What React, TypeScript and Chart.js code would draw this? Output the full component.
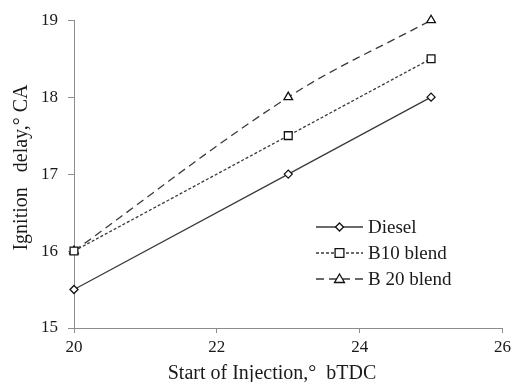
import React, { useEffect, useRef } from "react";
import { Chart, registerables } from "chart.js";

Chart.register(...registerables);

const xValues = [20, 23, 25];
const dieselValues = [15.5, 17, 18];
const b10Values = [16, 17.5, 18.5];
const b20Values = [16, 18, 19];
const seriesNames = ["Diesel", "B10 blend", "B 20 blend"];
const xTitle = "Start of Injection,\u00b0  bTDC";
const yTitle = "Ignition   delay,\u00b0 CA";

const FONT = "'Liberation Serif', 'Times New Roman', serif";
const TEXT = "#1a1a1a";
const LINE = "#3a3a3a";
const AXIS = "#8c8c8c";

const titlesPlugin = {
  id: "axisTitles",
  afterDraw(chart: any) {
    const ctx = chart.ctx;
    ctx.save();
    ctx.fillStyle = TEXT;
    ctx.font = `20px ${FONT}`;
    ctx.textAlign = "center";
    ctx.textBaseline = "alphabetic";
    ctx.fillText(xTitle, 272, 379);
    ctx.translate(27, 167.5);
    ctx.rotate(-Math.PI / 2);
    ctx.fillText(yTitle, 0, 0);
    ctx.restore();
  },
};

const legendPlugin = {
  id: "insideLegend",
  afterDraw(chart: any) {
    const ctx = chart.ctx;
    const items = chart.data.datasets;
    const x0 = 316;
    const x1 = 363;
    const tx = 368;
    const ys = [227, 253, 279];
    ctx.save();
    items.forEach((ds: any, i: number) => {
      const y = ys[i];
      ctx.strokeStyle = ds.borderColor;
      ctx.lineWidth = ds.borderWidth;
      ctx.setLineDash(ds.borderDash || []);
      ctx.beginPath();
      ctx.moveTo(x0, y);
      ctx.lineTo(x1, y);
      ctx.stroke();
      ctx.setLineDash([]);
      const cx = (x0 + x1) / 2;
      ctx.fillStyle = "#ffffff";
      ctx.strokeStyle = "#111";
      ctx.lineWidth = 1.3;
      const r = ds.pointRadius;
      ctx.beginPath();
      if (ds.pointStyle === "rectRot") {
        ctx.moveTo(cx, y - r);
        ctx.lineTo(cx + r, y);
        ctx.lineTo(cx, y + r);
        ctx.lineTo(cx - r, y);
        ctx.closePath();
      } else if (ds.pointStyle === "rect") {
        const s = r * 0.8;
        ctx.rect(cx - s, y - s, 2 * s, 2 * s);
      } else {
        ctx.moveTo(cx, y - r);
        ctx.lineTo(cx + r, y + r * 0.7);
        ctx.lineTo(cx - r, y + r * 0.7);
        ctx.closePath();
      }
      ctx.fill();
      ctx.stroke();
      ctx.fillStyle = TEXT;
      ctx.font = `19px ${FONT}`;
      ctx.textBaseline = "middle";
      ctx.textAlign = "left";
      ctx.fillText(ds.label, tx, y + 1);
    });
    ctx.restore();
  },
};

export default function App() {
  const ref = useRef<HTMLCanvasElement>(null);
  useEffect(() => {
    if (!ref.current) return;
    const mk = (vals: number[]) => xValues.map((x, i) => ({ x, y: vals[i] }));
    const common = {
      borderColor: LINE,
      borderWidth: 1.3,
      pointBackgroundColor: "#ffffff",
      pointBorderColor: "#111",
      pointBorderWidth: 1.3,
      fill: false,
      clip: false,
    };
    const chart = new Chart(ref.current, {
      type: "line",
      data: {
        datasets: [
          { ...common, label: seriesNames[0], data: mk(dieselValues), pointStyle: "rectRot", pointRadius: 4, tension: 0 },
          { ...common, label: seriesNames[1], data: mk(b10Values), pointStyle: "rect", pointRadius: 5.5, borderDash: [3, 2], tension: 0.35 },
          { ...common, label: seriesNames[2], data: mk(b20Values), pointStyle: "triangle", pointRadius: 5, borderDash: [8, 5], tension: 0.35 },
        ],
      },
      options: {
        responsive: false,
        animation: false,
        layout: { padding: { left: 0, right: 10, top: 20, bottom: 0 } },
        plugins: { legend: { display: false }, tooltip: { enabled: false } },
        scales: {
          x: {
            type: "linear",
            min: 20,
            max: 26,
            ticks: { stepSize: 2, color: TEXT, font: { family: FONT, size: 17 }, padding: 4 },
            grid: { drawOnChartArea: false, color: AXIS, tickLength: 5, tickColor: AXIS },
            border: { color: AXIS, width: 1 },
            title: { display: false, text: xTitle },
            afterFit(scale: any) { scale.height = 54; },
          },
          y: {
            min: 15,
            max: 19,
            ticks: { stepSize: 1, color: TEXT, font: { family: FONT, size: 17 }, padding: 10 },
            grid: { drawOnChartArea: false, color: AXIS, tickLength: 6, tickColor: AXIS },
            border: { color: AXIS, width: 1 },
            title: { display: false, text: yTitle },
            afterFit(scale: any) { scale.width = 74; },
          },
        },
      },
      plugins: [legendPlugin, titlesPlugin],
    } as any);
    return () => chart.destroy();
  }, []);
  return (
    <div style={{ position: "absolute", left: 0, top: 0, width: 515, height: 382, background: "#fff" }}>
      <canvas ref={ref} width={515} height={382} style={{ width: 515, height: 382 }} />
    </div>
  );
}
